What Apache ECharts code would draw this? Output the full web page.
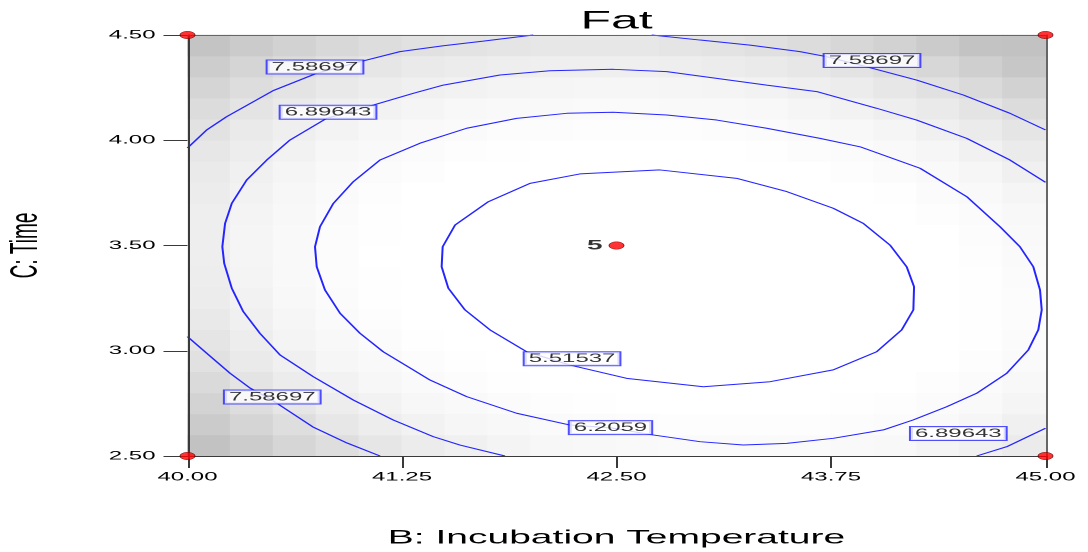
<!DOCTYPE html>
<html>
<head>
<meta charset="utf-8">
<script src="https://cdn.jsdelivr.net/npm/echarts@6/dist/echarts.min.js"></script>
<style>
  html, body { margin: 0; padding: 0; background: #fff; overflow: hidden; }
  #wrap { width: 1088px; height: 552px; overflow: hidden; }
  /* the plot is laid out at half width and stretched horizontally */
  #chart { width: 544px; height: 552px; transform: scaleX(2); transform-origin: 0 0; }
</style>
</head>
<body>
<div id="wrap"><div id="chart"></div></div>
<script>
const chartTitle = 'Fat';
const xName = 'B: Incubation Temperature';
const yName = 'C: Time';
const xTicks = [40.00, 41.25, 42.50, 43.75, 45.00];
const yTicks = [2.50, 3.00, 3.50, 4.00, 4.50];

// shading cells: centres along B and C
const bCells = [40.125, 40.375, 40.625, 40.875, 41.125, 41.375, 41.625, 41.875, 42.125, 42.375,
                42.625, 42.875, 43.125, 43.375, 43.625, 43.875, 44.125, 44.375, 44.625, 44.875];
const cCells = [2.55, 2.65, 2.75, 2.85, 2.95, 3.05, 3.15, 3.25, 3.35, 3.45,
                3.55, 3.65, 3.75, 3.85, 3.95, 4.05, 4.15, 4.25, 4.35, 4.45];

// Fat response per cell, rows from C = 2.55 (bottom) to C = 4.45 (top)
const fatGrid = [
  [8.73, 8.33, 7.97, 7.64, 7.35, 7.08, 6.85, 6.66, 6.50, 6.37, 6.27, 6.21, 6.18, 6.18, 6.22, 6.29, 6.40, 6.62, 6.85, 7.10],
  [8.38, 7.99, 7.63, 7.31, 7.02, 6.76, 6.54, 6.35, 6.19, 6.07, 5.98, 5.92, 5.90, 5.91, 5.95, 6.03, 6.14, 6.33, 6.55, 6.85],
  [8.07, 7.68, 7.33, 7.01, 6.73, 6.48, 6.26, 6.08, 5.93, 5.81, 5.73, 5.68, 5.66, 5.68, 5.72, 5.81, 5.93, 6.07, 6.30, 6.60],
  [7.79, 7.41, 7.07, 6.76, 6.48, 6.23, 6.02, 5.84, 5.70, 5.59, 5.51, 5.47, 5.46, 5.48, 5.53, 5.62, 5.75, 5.90, 6.12, 6.40],
  [7.55, 7.18, 6.84, 6.54, 6.27, 6.03, 5.82, 5.65, 5.51, 5.41, 5.33, 5.30, 5.29, 5.32, 5.38, 5.48, 5.61, 5.77, 5.96, 6.22],
  [7.36, 6.99, 6.66, 6.36, 6.09, 5.86, 5.66, 5.49, 5.36, 5.26, 5.20, 5.16, 5.17, 5.20, 5.27, 5.37, 5.50, 5.67, 5.87, 6.11],
  [7.20, 6.84, 6.51, 6.22, 5.96, 5.73, 5.54, 5.38, 5.25, 5.16, 5.10, 5.07, 5.08, 5.12, 5.19, 5.30, 5.44, 5.62, 5.82, 6.06],
  [7.08, 6.72, 6.40, 6.11, 5.86, 5.64, 5.45, 5.30, 5.18, 5.09, 5.04, 5.02, 5.03, 5.08, 5.16, 5.27, 5.42, 5.60, 5.81, 6.06],
  [7.00, 6.65, 6.33, 6.05, 5.80, 5.59, 5.41, 5.26, 5.14, 5.06, 5.02, 5.00, 5.02, 5.07, 5.16, 5.28, 5.43, 5.62, 5.83, 6.09],
  [6.95, 6.61, 6.30, 6.02, 5.78, 5.57, 5.40, 5.26, 5.15, 5.07, 5.03, 5.02, 5.05, 5.11, 5.20, 5.32, 5.48, 5.67, 5.90, 6.16],
  [6.95, 6.61, 6.31, 6.04, 5.80, 5.60, 5.43, 5.29, 5.19, 5.12, 5.09, 5.08, 5.11, 5.18, 5.28, 5.41, 5.57, 5.77, 6.00, 6.27],
  [6.98, 6.65, 6.35, 6.09, 5.86, 5.66, 5.50, 5.37, 5.27, 5.21, 5.18, 5.18, 5.22, 5.29, 5.39, 5.53, 5.70, 5.91, 6.14, 6.41],
  [7.05, 6.73, 6.44, 6.18, 5.96, 5.76, 5.61, 5.48, 5.39, 5.34, 5.31, 5.32, 5.36, 5.44, 5.55, 5.69, 5.87, 6.08, 6.32, 6.60],
  [7.16, 6.84, 6.56, 6.31, 6.09, 5.90, 5.75, 5.63, 5.55, 5.50, 5.48, 5.50, 5.55, 5.63, 5.74, 5.89, 6.08, 6.29, 6.54, 6.83],
  [7.31, 7.00, 6.72, 6.47, 6.26, 6.08, 5.94, 5.83, 5.75, 5.70, 5.69, 5.71, 5.77, 5.86, 5.98, 6.13, 6.32, 6.54, 6.80, 7.09],
  [7.50, 7.19, 6.92, 6.68, 6.47, 6.30, 6.16, 6.05, 5.98, 5.94, 5.94, 5.97, 6.03, 6.12, 6.25, 6.41, 6.61, 6.83, 7.09, 7.39],
  [7.72, 7.42, 7.16, 6.92, 6.72, 6.56, 6.42, 6.32, 6.26, 6.22, 6.22, 6.26, 6.32, 6.43, 6.56, 6.73, 6.93, 7.16, 7.43, 7.73],
  [7.99, 7.69, 7.43, 7.20, 7.01, 6.85, 6.72, 6.63, 6.57, 6.54, 6.55, 6.59, 6.66, 6.77, 6.91, 7.08, 7.29, 7.53, 7.80, 8.11],
  [8.29, 8.00, 7.75, 7.52, 7.34, 7.18, 7.06, 6.97, 6.92, 6.90, 6.91, 6.96, 7.04, 7.15, 7.29, 7.47, 7.69, 7.93, 8.21, 8.52],
  [8.63, 8.35, 8.10, 7.88, 7.70, 7.55, 7.44, 7.36, 7.31, 7.29, 7.31, 7.36, 7.45, 7.57, 7.72, 7.91, 8.12, 8.37, 8.66, 8.98]
];

// contour paths as [B, C] vertices
const contour5515 = [
  [42.753, 3.859], [43.200, 3.819], [43.492, 3.756], [43.763, 3.677], [43.938, 3.605], [44.094, 3.502],
  [44.191, 3.399], [44.234, 3.304], [44.230, 3.194], [44.162, 3.099], [44.016, 2.995], [43.763, 2.909],
  [43.395, 2.853], [43.006, 2.829], [42.559, 2.869], [42.229, 2.932], [41.977, 2.995], [41.763, 3.099],
  [41.617, 3.194], [41.520, 3.297], [41.481, 3.399], [41.487, 3.494], [41.559, 3.597], [41.753, 3.708],
  [41.996, 3.795], [42.287, 3.840], [42.753, 3.859]
];
const contour6206 = [
  [42.481, 4.133], [42.793, 4.120], [43.084, 4.096], [43.375, 4.057], [43.686, 4.009], [43.919, 3.969],
  [44.269, 3.867], [44.541, 3.732], [44.735, 3.589], [44.851, 3.494], [44.929, 3.399], [44.968, 3.289],
  [44.978, 3.194], [44.958, 3.099], [44.900, 3.004], [44.774, 2.893], [44.599, 2.798], [44.424, 2.734],
  [44.228, 2.671], [44.055, 2.624], [43.763, 2.584], [43.492, 2.560], [43.239, 2.552], [42.987, 2.568],
  [42.713, 2.600], [42.474, 2.633], [42.229, 2.647], [41.918, 2.703], [41.627, 2.782], [41.413, 2.861],
  [41.316, 2.909], [41.141, 2.995], [41.005, 3.083], [40.889, 3.178], [40.801, 3.289], [40.753, 3.399],
  [40.743, 3.494], [40.772, 3.589], [40.850, 3.700], [40.966, 3.803], [41.122, 3.906], [41.355, 3.986],
  [41.627, 4.057], [41.918, 4.104], [42.210, 4.128], [42.481, 4.133]
];
const contour6896Main = [
  [41.850, 2.500], [41.588, 2.552], [41.432, 2.592], [41.199, 2.671], [40.966, 2.766], [40.733, 2.877],
  [40.539, 2.980], [40.422, 3.083], [40.325, 3.186], [40.258, 3.297], [40.214, 3.415], [40.203, 3.494],
  [40.219, 3.605], [40.258, 3.700], [40.345, 3.811], [40.462, 3.906], [40.597, 4.001], [40.811, 4.104],
  [41.083, 4.167], [41.316, 4.223], [41.491, 4.262], [41.821, 4.310], [42.112, 4.330], [42.481, 4.337],
  [42.793, 4.326], [43.084, 4.294], [43.375, 4.262], [43.667, 4.231], [44.016, 4.152], [44.249, 4.096],
  [44.541, 4.009], [44.793, 3.906], [45.000, 3.800]
];
const contour6896Corner = [[44.599, 2.500], [44.774, 2.544], [45.000, 2.632]];
const contour7587TopLeft = [
  [40.000, 3.963], [40.112, 4.049], [40.228, 4.112], [40.500, 4.236], [40.753, 4.318], [41.015, 4.375],
  [41.238, 4.421], [41.491, 4.449], [41.724, 4.471], [42.015, 4.500]
];
const contour7587TopRight = [
  [42.705, 4.500], [42.987, 4.476], [43.278, 4.452], [43.569, 4.421], [43.725, 4.397], [43.958, 4.349],
  [44.249, 4.286], [44.521, 4.215], [44.793, 4.128], [45.000, 4.049]
];
const contour7587BottomLeft = [
  [40.000, 3.067], [40.112, 2.988], [40.248, 2.893], [40.364, 2.823], [40.492, 2.766], [40.731, 2.638],
  [40.929, 2.562], [41.122, 2.500]
];
const contourPaths = [contour5515, contour6206, contour6896Main, contour6896Corner,
                      contour7587TopLeft, contour7587TopRight, contour7587BottomLeft];

// contour level labels: [B, C, level text]
const contourLabels = [
  [40.743, 4.348, '7.58697'],
  [40.819, 4.133, '6.89643'],
  [43.989, 4.379, '7.58697'],
  [42.241, 2.962, '5.51537'],
  [40.494, 2.780, '7.58697'],
  [42.465, 2.635, '6.2059'],
  [44.492, 2.607, '6.89643']
];

// design points and number of runs at each
const designB = [40, 45, 40, 45, 42.5];
const designC = [2.5, 2.5, 4.5, 4.5, 3.5];
const designRuns = [1, 1, 1, 1, 5];

const FONT = '"Liberation Sans", Arial, Helvetica, sans-serif';
const AXIS_COLOR = '#3a3a3a';
const LINE_BLUE = '#2424ff';

const heatData = [];
fatGrid.forEach((row, j) => row.forEach((v, i) => heatData.push([i, j, v])));

const chart = echarts.init(document.getElementById('chart'), null, { renderer: 'canvas', devicePixelRatio: 2 });

const valueAxisBase = {
  type: 'value',
  splitLine: { show: false },
  z: 10
};

const option = {
  animation: false,
  backgroundColor: '#ffffff',
  textStyle: { fontFamily: FONT },
  title: {
    text: chartTitle,
    left: 308.25,
    top: 9,
    padding: 0,
    textAlign: 'center',
    textStyle: { fontFamily: FONT, fontSize: 25, fontWeight: 'normal', color: '#000' }
  },
  grid: { left: 93.75, right: 21.25, top: 35, bottom: 96, outerBoundsMode: 'none' },
  visualMap: {
    show: false,
    type: 'continuous',
    seriesIndex: 0,
    dimension: 2,
    min: 5.0,
    max: 8.7,
    inRange: { color: ['#ffffff', '#ffffff', '#f7f7f7', '#e9e9e9', '#d6d6d6', '#c2c2c2'] }
  },
  xAxis: [
    Object.assign({}, valueAxisBase, {
      min: xTicks[0], max: xTicks[xTicks.length - 1], interval: xTicks[1] - xTicks[0],
      position: 'bottom',
      name: xName, nameLocation: 'middle', nameGap: 72,
      nameTextStyle: { fontFamily: FONT, fontSize: 19.5, color: '#000' },
      axisLine: { show: true, onZero: false, lineStyle: { color: AXIS_COLOR, width: 1 } },
      axisTick: { show: true, length: 12, lineStyle: { color: AXIS_COLOR, width: 1 } },
      axisLabel: { margin: 15, fontSize: 12, color: '#000', fontFamily: FONT, formatter: v => v.toFixed(2) }
    }),
    Object.assign({}, valueAxisBase, {
      min: xTicks[0], max: xTicks[xTicks.length - 1],
      position: 'top',
      axisLine: { show: true, onZero: false, lineStyle: { color: '#666', width: 1 } },
      axisTick: { show: false }, axisLabel: { show: false }
    }),
    { type: 'category', data: bCells, show: false }
  ],
  yAxis: [
    Object.assign({}, valueAxisBase, {
      min: yTicks[0], max: yTicks[yTicks.length - 1], interval: yTicks[1] - yTicks[0],
      position: 'left',
      name: yName, nameLocation: 'middle', nameGap: 71, nameRotate: 90,
      nameTextStyle: { fontFamily: FONT, fontSize: 19, color: '#000' },
      axisLine: { show: true, onZero: false, lineStyle: { color: AXIS_COLOR, width: 1 } },
      axisTick: { show: true, length: 12, lineStyle: { color: AXIS_COLOR, width: 1 } },
      axisLabel: { margin: 16, fontSize: 12, color: '#000', fontFamily: FONT, formatter: v => v.toFixed(2) }
    }),
    Object.assign({}, valueAxisBase, {
      min: yTicks[0], max: yTicks[yTicks.length - 1],
      position: 'right',
      axisLine: { show: true, onZero: false, lineStyle: { color: '#666', width: 1 } },
      axisTick: { show: false }, axisLabel: { show: false }
    }),
    { type: 'category', data: cCells, show: false }
  ],
  series: [
    {
      type: 'heatmap',
      xAxisIndex: 2,
      yAxisIndex: 2,
      data: heatData,
      z: 1,
      emphasis: { disabled: true }
    }
  ].concat(contourPaths.map(path => ({
    type: 'line',
    data: path,
    showSymbol: false,
    symbol: 'none',
    smooth: false,
    clip: true,
    z: 3,
    lineStyle: { color: LINE_BLUE, width: 1 },
    emphasis: { disabled: true }
  }))).concat([
    {
      type: 'scatter',
      data: contourLabels.map(d => ({ value: [d[0], d[1]], name: d[2] })),
      symbolSize: 1,
      itemStyle: { color: 'rgba(0,0,0,0)' },
      z: 5,
      clip: false,
      label: {
        show: true,
        position: 'inside',
        formatter: '{b}',
        color: '#000',
        fontFamily: FONT,
        fontSize: 12,
        lineHeight: 12,
        backgroundColor: '#ffffff',
        borderColor: LINE_BLUE,
        borderWidth: 1,
        padding: [1, 2, 0, 2]
      },
      emphasis: { disabled: true }
    },
    {
      type: 'scatter',
      data: designB.map((b, k) => ({ value: [b, designC[k]], runs: designRuns[k] })),
      symbol: 'circle',
      symbolSize: 7.5,
      clip: false,
      z: 20,
      itemStyle: { color: '#ff0000', borderColor: '#550000', borderWidth: 0.5 },
      label: {
        show: true,
        position: 'left',
        distance: 3,
        fontFamily: FONT,
        fontSize: 14,
        fontWeight: 'bold',
        color: '#000',
        formatter: p => (p.data.runs > 1 ? String(p.data.runs) : '')
      },
      emphasis: { disabled: true }
    }
  ])
};

chart.setOption(option);
</script>
</body>
</html>
